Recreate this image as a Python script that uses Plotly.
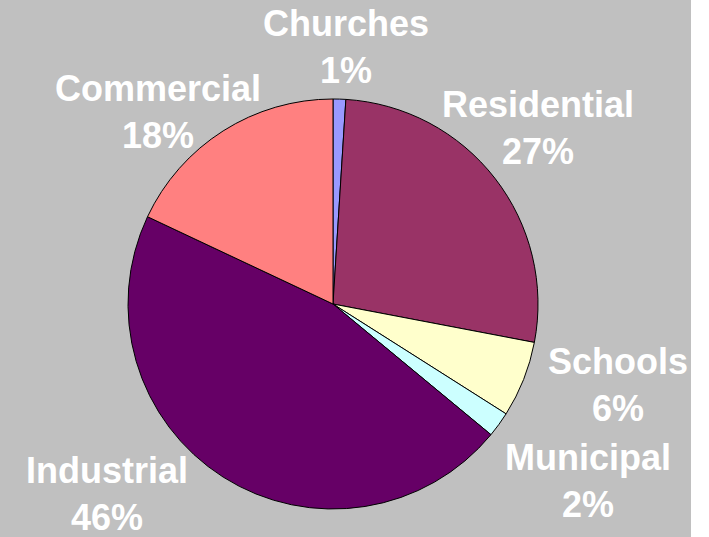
import plotly.graph_objects as go

categories = ["Churches", "Residential", "Schools", "Municipal", "Industrial", "Commercial"]
values = [1, 27, 6, 2, 46, 18]
percent_labels = ["1%", "27%", "6%", "2%", "46%", "18%"]
colors = ["#9999FF", "#993366", "#FFFFCC", "#CCFFFF", "#660066", "#FF8080"]

W, H = 709, 537
# label centres (pixels) and pie geometry
label_pos = [(346, 47), (538, 128), (618, 385), (588, 481), (107, 494), (158, 112)]
cx, cy, r = 333, 304, 205

fig = go.Figure(go.Pie(
    labels=categories,
    values=values,
    sort=False,
    direction="clockwise",
    rotation=0,
    marker=dict(colors=colors, line=dict(color="black", width=1)),
    textinfo="none",
    showlegend=False,
    hoverinfo="none",
    domain=dict(x=[(cx - r) / W, (cx + r) / W], y=[(H - cy - r) / H, (H - cy + r) / H]),
))

annotations = []
for cat, pct, (px, py) in zip(categories, percent_labels, label_pos):
    annotations.append(dict(
        x=px / W, y=1 - py / H, xref="paper", yref="paper",
        text=f"<b>{cat}</b><br><b>{pct}</b>", showarrow=False,
        xanchor="center", yanchor="middle", align="center",
        font=dict(family="Liberation Sans", size=36, color="white"),
    ))

fig.update_layout(
    width=W, height=H,
    margin=dict(l=0, r=0, t=0, b=0),
    paper_bgcolor="white",
    shapes=[dict(type="rect", xref="paper", yref="paper", x0=0, x1=691 / W, y0=0, y1=1,
                 fillcolor="#C0C0C0", line=dict(width=0), layer="below")],
    annotations=annotations,
)
fig.write_html("out.html", config={"displayModeBar": False},
               post_script="document.body.style.margin='0';document.body.style.overflow='hidden';")
